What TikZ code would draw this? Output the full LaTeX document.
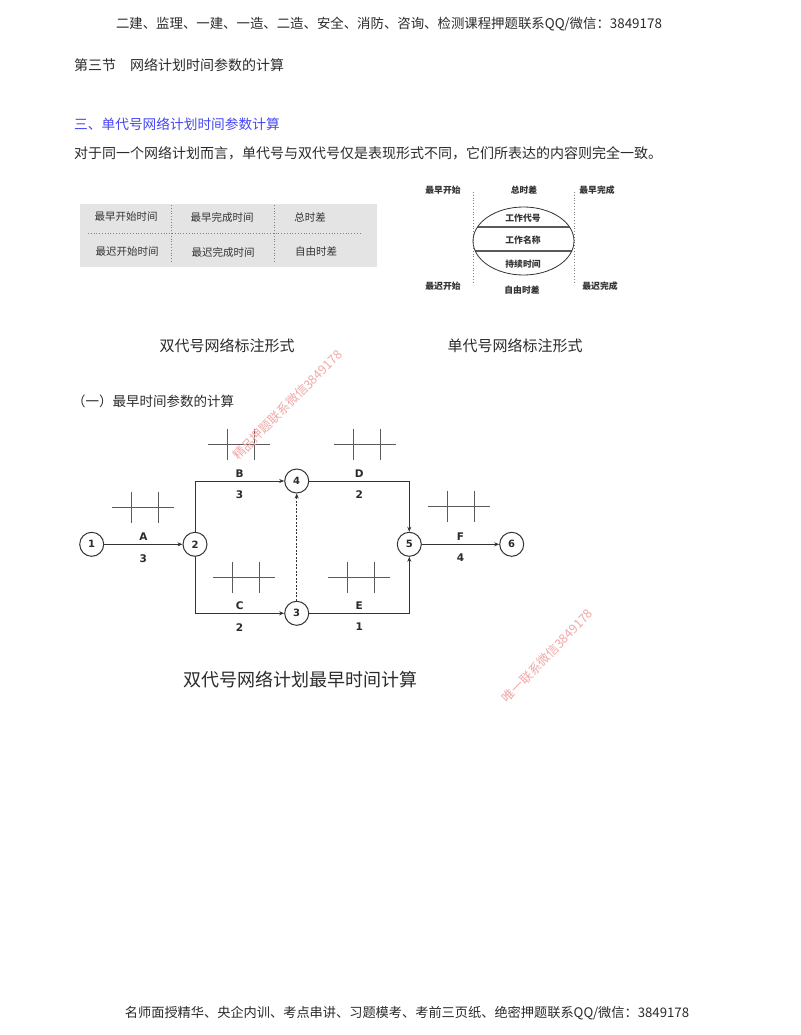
\documentclass[tikz,border=0pt]{standalone}
\usepackage{fontspec}
\setmainfont{Noto Sans CJK SC}
\newfontfamily\labfont{DejaVu Sans}
\usetikzlibrary{positioning,arrows.meta,shapes.geometric}
\definecolor{ink}{HTML}{2B2B2B}
\definecolor{headblue}{RGB}{70,70,245}
\definecolor{tabfill}{HTML}{E4E4E4}
\definecolor{tabtext}{HTML}{333333}
\definecolor{linegray}{HTML}{333333}
\definecolor{markgray}{HTML}{5A5A5A}
\definecolor{wmpink}{HTML}{F2A8A8}

\begin{document}
\begin{tikzpicture}[x=1pt,y=-1pt,>={Stealth[length=5pt,width=4pt]},
   node distance=100pt and 100pt,
   every node/.style={inner sep=0pt,text=ink},
   line/.style={anchor=west,font=\fontsize{14}{16}\selectfont},
   caption/.style={font=\fontsize{15}{17}\selectfont},
   cell/.style={text=tabtext,font=\fontsize{10.5}{12}\selectfont},
   tag/.style={text=tabtext,font=\bfseries\fontsize{8.8}{10}\selectfont},
   ev/.style={circle,draw=linegray,line width=1pt,minimum size=24pt,
     font=\labfont\bfseries\fontsize{10}{11}\selectfont},
   lab/.style={font=\labfont\bfseries\fontsize{10.5}{12}\selectfont},
   arr/.style={->,draw=linegray,line width=1pt},
   tickmark/.style={draw=markgray,line width=0.9pt},
   wm/.style={text=wmpink,font=\fontsize{12.5}{14}\selectfont}]
  \fill[white] (0,0) rectangle (800,1035);
  \useasboundingbox (0,0) rectangle (800,1035);

  % page text
  \node[font=\fontsize{13.4}{15}\selectfont] (top) at (389,24)
    {二建、监理、一建、一造、二造、安全、消防、咨询、检测课程押题联系QQ/微信：3849178};
  \node[line] (sec) at (74,65) {第三节　网络计划时间参数的计算};
  \node[line,text=headblue,font=\fontsize{13.7}{16}\selectfont] (head) at (74,124)
    {三、单代号网络计划时间参数计算};
  \node[line] (para) at (74,153)
    {对于同一个网络计划而言，单代号与双代号仅是表现形式不同，它们所表达的内容则完全一致。};

  % double-code label box
  \fill[tabfill] (80,204) rectangle (377,267);
  \draw[gray,dotted,line width=0.8pt] (88,233) -- (360,233);
  \draw[gray,dotted,line width=0.8pt] (171,205) -- (171,262);
  \draw[gray,dotted,line width=0.8pt] (274,205) -- (274,262);
  \node[cell] (es) at (126,217) {最早开始时间};
  \node[cell] (ef) at (222,217) {最早完成时间};
  \node[cell] (tf) at (310,217) {总时差};
  \node[cell] (ls) at (127,252) {最迟开始时间};
  \node[cell] (lf) at (223,252) {最迟完成时间};
  \node[cell] (ff) at (316,252) {自由时差};

  % single-code label form
  \draw[gray,dotted,line width=0.8pt] (473,192) -- (473,283);
  \draw[gray,dotted,line width=0.8pt] (574,192) -- (574,283);
  \begin{scope}
    \clip (523.5,241) ellipse [x radius=50.5pt,y radius=34pt];
    \draw[markgray,line width=1.4pt] (470,227) -- (580,227);
    \draw[markgray,line width=1.4pt] (470,251) -- (580,251);
  \end{scope}
  \node[ellipse,draw=linegray,line width=0.8pt,minimum width=101pt,
    minimum height=68pt] (ell) at (523.5,241) {};
  \node[tag] (code) at (523,218) {工作代号};
  \node[tag] (name) at (523,240) {工作名称};
  \node[tag] (dur) at (523,264) {持续时间};
  \node[tag] (tes) at (443,190) {最早开始};
  \node[tag] (ttf) at (524,190) {总时差};
  \node[tag] (tef) at (597,190) {最早完成};
  \node[tag] (tls) at (443,286) {最迟开始};
  \node[tag] (tff) at (522,290) {自由时差};
  \node[tag] (tlf) at (600,286) {最迟完成};

  \node[caption] (cap1) at (227,346) {双代号网络标注形式};
  \node[caption] (cap2) at (515,346) {单代号网络标注形式};
  \node[line,font=\fontsize{13.5}{16}\selectfont] (sub) at (72,401)
    {（一）最早时间参数的计算};

  % network
  \begin{scope}[on grid]
    \node[ev] (n1) at (91.7,544.3) {1};
    \node[ev] (n2) [right=103.3pt of n1] {2};
    \node[ev] (n4) [above right=63.3pt and 101.7pt of n2] {4};
    \node[ev] (n3) [below right=69pt and 101.7pt of n2] {3};
    \node[ev] (n5) [right=214.3pt of n2] {5};
    \node[ev] (n6) [right=102.4pt of n5] {6};
  \end{scope}
  \draw[arr] (n1) -- node[lab,above=3pt]{A} node[lab,below=9.5pt]{3} (n2);
  \draw[arr] (n2) |- node[lab,pos=0.75,above=3pt]{B}
    node[lab,pos=0.75,below=9.5pt]{3} (n4);
  \draw[arr] (n2) |- node[lab,pos=0.75,above=3pt]{C}
    node[lab,pos=0.75,below=9.5pt]{2} (n3);
  \draw[arr,dash pattern=on 2pt off 1.5pt] (n3) -- (n4);
  \draw[arr] (n4) -| node[lab,pos=0.25,above=3pt]{D}
    node[lab,pos=0.25,below=9.5pt]{2} (n5);
  \draw[arr] (n3) -| node[lab,pos=0.25,above=3pt]{E}
    node[lab,pos=0.25,below=9.5pt]{1} (n5);
  \draw[arr] (n5) -- node[lab,above=3pt]{F} node[lab,below=9.5pt]{4} (n6);

  % blank time-parameter marks
  \foreach \mx/\my in {143/507, 239/444, 365/444, 244/577, 359/577, 459/506} {
    \draw[tickmark] (\mx-31,\my) -- (\mx+31,\my);
    \draw[tickmark] (\mx-12,\my-15.5) -- (\mx-12,\my+15.5);
    \draw[tickmark] (\mx+15,\my-15.5) -- (\mx+15,\my+15.5);
  }

  \node[font=\fontsize{18}{20}\selectfont] (cap3) at (300,680)
    {双代号网络计划最早时间计算};

  % watermarks
  \node[wm,rotate=45] (wm1) at (287.5,405) {精品押题联系微信3849178};
  \node[wm,rotate=46] (wm2) at (547.5,656) {唯一联系微信3849178};

  \node[font=\fontsize{13.2}{15}\selectfont] (foot) at (407,1013)
    {名师面授精华、央企内训、考点串讲、习题模考、考前三页纸、绝密押题联系QQ/微信：3849178};
\end{tikzpicture}
\end{document}
